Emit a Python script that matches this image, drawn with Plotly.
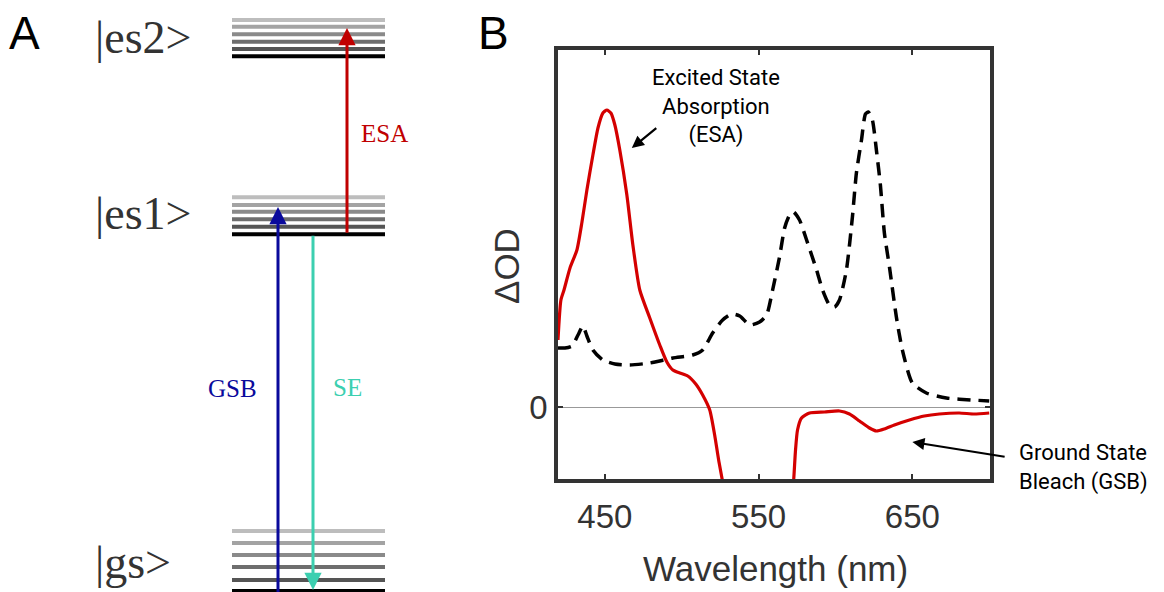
import plotly.graph_objects as go

W, H = 1164, 592

# ---------------- Panel B data ----------------
esa_wl = [419.5, 421.4, 423.4, 427.3, 431.8, 435.1, 438.3, 442.2, 445.5, 448.7, 451.3, 453.9,
          456.5, 459.7, 464.3, 468.2, 472.7, 479.2, 485.7, 490.3, 494.2, 498.7, 503.9, 509.1,
          513.6, 518.2, 521.4, 524.0, 526.6, 528.0,
          None,
          571.5, 572.7, 574.0, 575.3, 577.9, 583.1, 592.9, 602.6, 609.1, 615.6, 622.1, 626.6,
          631.8, 638.3, 648.1, 657.8, 667.5, 680.5, 690.3, 700.0]
esa_od = [0.67, 1.07, 1.17, 1.39, 1.57, 1.85, 2.17, 2.52, 2.79, 2.94, 2.97, 2.94,
          2.82, 2.57, 2.12, 1.62, 1.17, 0.89, 0.62, 0.45, 0.37, 0.34, 0.31, 0.23,
          0.12, -0.03, -0.28, -0.53, -0.75, -0.90,
          None,
          -0.90, -0.75, -0.43, -0.23, -0.11, -0.06, -0.05, -0.04, -0.07, -0.14, -0.21, -0.24,
          -0.22, -0.18, -0.13, -0.09, -0.07, -0.06, -0.07, -0.06]

abs_wl = [419.5, 424.0, 428.6, 432.5, 435.7, 438.3, 442.2, 448.7, 456.5, 466.2, 479.2, 494.2,
          507.1, 513.6, 520.1, 526.6, 532.5, 537.7, 544.2, 550.6, 555.2, 559.1, 563.6, 566.9,
          570.1, 572.7, 576.6, 581.2, 587.7, 591.6, 596.1, 599.4, 602.6, 607.1, 611.0, 613.6,
          616.9, 619.5, 621.4, 624.0, 626.6, 629.2, 631.8, 635.1, 639.6, 643.5, 650.0, 659.1,
          672.1, 689.0, 700.0]
abs_od = [0.59, 0.59, 0.61, 0.72, 0.81, 0.71, 0.57, 0.47, 0.43, 0.42, 0.44, 0.49,
          0.52, 0.57, 0.74, 0.87, 0.93, 0.91, 0.82, 0.85, 0.92, 1.17, 1.50, 1.79,
          1.92, 1.95, 1.87, 1.67, 1.37, 1.17, 1.02, 1.00, 1.07, 1.37, 1.90, 2.34,
          2.67, 2.93, 2.95, 2.87, 2.57, 2.22, 1.74, 1.40, 0.90, 0.57, 0.24, 0.14,
          0.09, 0.07, 0.06]

x_ticks = [450, 550, 650]
y_ticks = [0]

# ---------------- Panel A data (energy diagram) ----------------
state_names = ["|gs&gt;", "|es1&gt;", "|es2&gt;"]
state_label_y = [30, 379, 555]
gs_levels = [1, 12, 25, 37, 49, 61]
es1_levels = [357.7, 365.3, 372.7, 380.3, 387.0, 394.7]
es2_levels = [535.7, 543.0, 550.3, 557.7, 565.3, 572.0]
level_colors = ["#000000", "#555555", "#6e6e6e", "#8a8a8a", "#a3a3a3", "#bdbdbd"]

transitions = ["ESA", "GSB", "SE"]

fig = go.Figure()

# level lines
band_x = [232, 385]
for levels in (gs_levels, es1_levels, es2_levels):
    for e, c in zip(levels, level_colors):
        fig.add_trace(go.Scatter(x=band_x, y=[e, e], mode="lines", xaxis="x2", yaxis="y2",
                                 line=dict(color=c, width=4), showlegend=False, hoverinfo="skip"))

# spectra
fig.add_trace(go.Scatter(x=abs_wl, y=abs_od, mode="lines", showlegend=False,
                         line=dict(color="black", width=3.5, dash="13px,8px", shape="spline", smoothing=0.6)))
fig.add_trace(go.Scatter(x=esa_wl, y=esa_od, mode="lines", showlegend=False, connectgaps=False,
                         line=dict(color="#d40000", width=3.2, shape="spline", smoothing=0.6)))

ann = []
def px(x):
    return x / W
def py(y):
    return (H - y) / H

# panel letters
for t, xx in (("A", 24), ("B", 493)):
    ann.append(dict(text=t, x=px(xx), y=py(33), xref="paper", yref="paper", showarrow=False,
                    xanchor="center", yanchor="middle",
                    font=dict(family="Liberation Sans", size=46, color="black")))

# state labels
for name, yy in zip(state_names, state_label_y):
    ann.append(dict(text=name, x=93, y=yy, xref="x2", yref="y2", xanchor="left", yanchor="middle",
                    showarrow=False, font=dict(family="Liberation Serif", size=46, color="#333333")))

# transition arrows (tip at x,y ; tail at ax,ay)
arrow_specs = [
    (347, 357.7, 564, "#c00000"),   # ESA
    (278, -5, 385, "#0a0a9c"),      # GSB
    (313, 357.7, 2, "#3ccfb0"),     # SE
]
for xx, y0, y1, col in arrow_specs:
    ann.append(dict(x=xx, y=y1, ax=xx, ay=y0, xref="x2", yref="y2", axref="x2", ayref="y2",
                    text="", showarrow=True, arrowhead=2, arrowsize=1.15, arrowwidth=3,
                    arrowcolor=col))
label_pos = [(384, 459, "#c00000"), (232, 204, "#0a0a9c"), (347, 205, "#3ccfb0")]
for t, (xx, yy, col) in zip(transitions, label_pos):
    ann.append(dict(text=t, x=xx, y=yy, xref="x2", yref="y2", showarrow=False,
                    xanchor="center", yanchor="middle",
                    font=dict(family="Liberation Serif", size=25, color=col)))

# panel B annotations
lab_font = dict(family="Roboto", size=22, color="black")
ann.append(dict(text="Excited State<br>Absorption<br>(ESA)", x=px(716), y=py(106),
                xref="paper", yref="paper", xanchor="center", yanchor="middle", align="center",
                showarrow=False, font=lab_font))
ann.append(dict(x=467.5, y=2.59, ax=484.4, ay=2.80, xref="x", yref="y", axref="x", ayref="y",
                text="", showarrow=True, arrowhead=2, arrowsize=1.1, arrowwidth=2.2, arrowcolor="black"))
ann.append(dict(text="Ground State<br>Bleach (GSB)", x=px(1017), y=py(467),
                xref="paper", yref="paper", xanchor="left", yanchor="middle", align="left",
                showarrow=False, font=lab_font))
ann.append(dict(x=650, y=-0.35, ax=711, ay=-0.50, xref="x", yref="y", axref="x", ayref="y",
                text="", showarrow=True, arrowhead=2, arrowsize=1.1, arrowwidth=2.2, arrowcolor="black"))

# axis titles
ann.append(dict(text="Wavelength (nm)", x=px(775), y=py(568), xref="paper", yref="paper",
                xanchor="center", yanchor="middle", showarrow=False,
                font=dict(family="Liberation Sans", size=35, color="#333333")))
ann.append(dict(text="ΔOD", x=px(506), y=py(266), xref="paper", yref="paper", textangle=-90,
                xanchor="center", yanchor="middle", showarrow=False,
                font=dict(family="Liberation Sans", size=35, color="#333333")))

fig.update_layout(
    width=W, height=H, margin=dict(l=0, r=0, t=0, b=0),
    paper_bgcolor="white", plot_bgcolor="white",
    annotations=ann,
    xaxis=dict(domain=[558 / W, 990 / W], range=[419.5, 700.5], tickvals=x_ticks,
               ticktext=[str(v) for v in x_ticks], ticks="inside", ticklen=5, tickwidth=2,
               tickcolor="#333", showline=True, linewidth=3.5, linecolor="#333", mirror="ticks",
               showgrid=False, zeroline=False, anchor="y", ticklabelstandoff=6,
               tickfont=dict(family="Liberation Sans", size=33, color="#333333")),
    yaxis=dict(domain=[py(479), py(50)], range=[-0.72, 3.57], tickvals=y_ticks,
               ticktext=["0"], ticks="inside", ticklen=5, tickwidth=2, tickcolor="#333",
               showline=True, linewidth=3.5, linecolor="#333", mirror="ticks", showgrid=False,
               zeroline=True, zerolinecolor="#999999", zerolinewidth=1, anchor="x",
               tickfont=dict(family="Liberation Sans", size=33, color="#333333")),
    xaxis2=dict(domain=[0, 480 / W], range=[0, 480], visible=False, anchor="y2"),
    yaxis2=dict(domain=[0, 1], range=[0, 592], visible=False, anchor="x2"),
)

fig.write_html("out.html")
